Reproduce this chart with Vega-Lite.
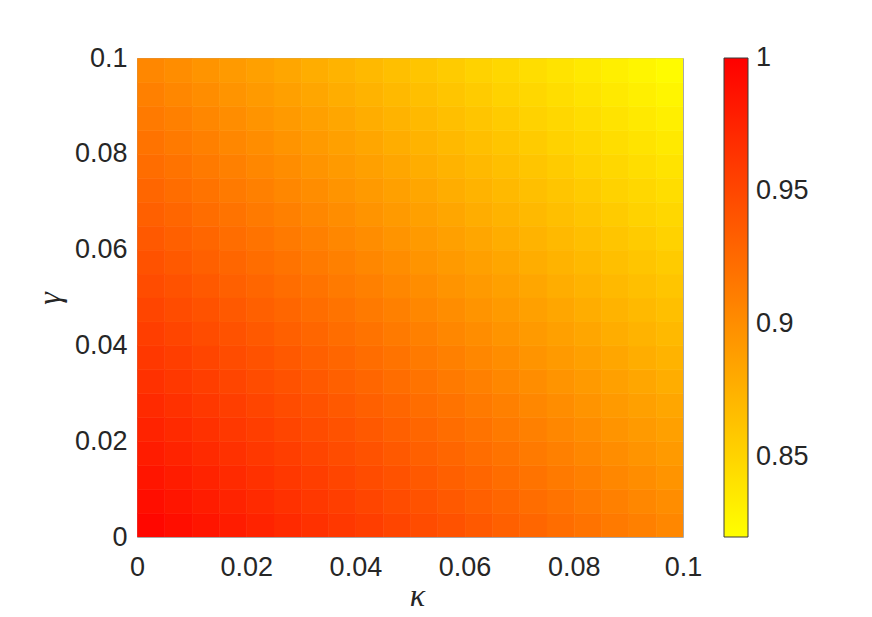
{
"$schema": "https://vega.github.io/schema/vega-lite/v6.json",
"autosize": {"type": "none"},
"padding": {"left": 137, "top": 58, "right": 189, "bottom": 80},
"width": 546,
"height": 479,
"background": "white",
"data": {"values": [
{"k":0,"g":0,"v":0.995},{"k":0,"g":0.005,"v":0.99},{"k":0,"g":0.01,"v":0.9851},{"k":0,"g":0.015,"v":0.9802},{"k":0,"g":0.02,"v":0.9753},{"k":0,"g":0.025,"v":0.9704},{"k":0,"g":0.03,"v":0.9656},{"k":0,"g":0.035,"v":0.9608},{"k":0,"g":0.04,"v":0.956},{"k":0,"g":0.045,"v":0.9512},{"k":0,"g":0.05,"v":0.9465},{"k":0,"g":0.055,"v":0.9418},{"k":0,"g":0.06,"v":0.9371},{"k":0,"g":0.065,"v":0.9324},{"k":0,"g":0.07,"v":0.9277},{"k":0,"g":0.075,"v":0.9231},{"k":0,"g":0.08,"v":0.9185},{"k":0,"g":0.085,"v":0.9139},{"k":0,"g":0.09,"v":0.9094},{"k":0,"g":0.095,"v":0.9048},
{"k":0.005,"g":0,"v":0.99},{"k":0.005,"g":0.005,"v":0.9851},{"k":0.005,"g":0.01,"v":0.9802},{"k":0.005,"g":0.015,"v":0.9753},{"k":0.005,"g":0.02,"v":0.9704},{"k":0.005,"g":0.025,"v":0.9656},{"k":0.005,"g":0.03,"v":0.9608},{"k":0.005,"g":0.035,"v":0.956},{"k":0.005,"g":0.04,"v":0.9512},{"k":0.005,"g":0.045,"v":0.9465},{"k":0.005,"g":0.05,"v":0.9418},{"k":0.005,"g":0.055,"v":0.9371},{"k":0.005,"g":0.06,"v":0.9324},{"k":0.005,"g":0.065,"v":0.9277},{"k":0.005,"g":0.07,"v":0.9231},{"k":0.005,"g":0.075,"v":0.9185},{"k":0.005,"g":0.08,"v":0.9139},{"k":0.005,"g":0.085,"v":0.9094},{"k":0.005,"g":0.09,"v":0.9048},{"k":0.005,"g":0.095,"v":0.9003},
{"k":0.01,"g":0,"v":0.9851},{"k":0.01,"g":0.005,"v":0.9802},{"k":0.01,"g":0.01,"v":0.9753},{"k":0.01,"g":0.015,"v":0.9704},{"k":0.01,"g":0.02,"v":0.9656},{"k":0.01,"g":0.025,"v":0.9608},{"k":0.01,"g":0.03,"v":0.956},{"k":0.01,"g":0.035,"v":0.9512},{"k":0.01,"g":0.04,"v":0.9465},{"k":0.01,"g":0.045,"v":0.9418},{"k":0.01,"g":0.05,"v":0.9371},{"k":0.01,"g":0.055,"v":0.9324},{"k":0.01,"g":0.06,"v":0.9277},{"k":0.01,"g":0.065,"v":0.9231},{"k":0.01,"g":0.07,"v":0.9185},{"k":0.01,"g":0.075,"v":0.9139},{"k":0.01,"g":0.08,"v":0.9094},{"k":0.01,"g":0.085,"v":0.9048},{"k":0.01,"g":0.09,"v":0.9003},{"k":0.01,"g":0.095,"v":0.8958},
{"k":0.015,"g":0,"v":0.9802},{"k":0.015,"g":0.005,"v":0.9753},{"k":0.015,"g":0.01,"v":0.9704},{"k":0.015,"g":0.015,"v":0.9656},{"k":0.015,"g":0.02,"v":0.9608},{"k":0.015,"g":0.025,"v":0.956},{"k":0.015,"g":0.03,"v":0.9512},{"k":0.015,"g":0.035,"v":0.9465},{"k":0.015,"g":0.04,"v":0.9418},{"k":0.015,"g":0.045,"v":0.9371},{"k":0.015,"g":0.05,"v":0.9324},{"k":0.015,"g":0.055,"v":0.9277},{"k":0.015,"g":0.06,"v":0.9231},{"k":0.015,"g":0.065,"v":0.9185},{"k":0.015,"g":0.07,"v":0.9139},{"k":0.015,"g":0.075,"v":0.9094},{"k":0.015,"g":0.08,"v":0.9048},{"k":0.015,"g":0.085,"v":0.9003},{"k":0.015,"g":0.09,"v":0.8958},{"k":0.015,"g":0.095,"v":0.8914},
{"k":0.02,"g":0,"v":0.9753},{"k":0.02,"g":0.005,"v":0.9704},{"k":0.02,"g":0.01,"v":0.9656},{"k":0.02,"g":0.015,"v":0.9608},{"k":0.02,"g":0.02,"v":0.956},{"k":0.02,"g":0.025,"v":0.9512},{"k":0.02,"g":0.03,"v":0.9465},{"k":0.02,"g":0.035,"v":0.9418},{"k":0.02,"g":0.04,"v":0.9371},{"k":0.02,"g":0.045,"v":0.9324},{"k":0.02,"g":0.05,"v":0.9277},{"k":0.02,"g":0.055,"v":0.9231},{"k":0.02,"g":0.06,"v":0.9185},{"k":0.02,"g":0.065,"v":0.9139},{"k":0.02,"g":0.07,"v":0.9094},{"k":0.02,"g":0.075,"v":0.9048},{"k":0.02,"g":0.08,"v":0.9003},{"k":0.02,"g":0.085,"v":0.8958},{"k":0.02,"g":0.09,"v":0.8914},{"k":0.02,"g":0.095,"v":0.8869},
{"k":0.025,"g":0,"v":0.9704},{"k":0.025,"g":0.005,"v":0.9656},{"k":0.025,"g":0.01,"v":0.9608},{"k":0.025,"g":0.015,"v":0.956},{"k":0.025,"g":0.02,"v":0.9512},{"k":0.025,"g":0.025,"v":0.9465},{"k":0.025,"g":0.03,"v":0.9418},{"k":0.025,"g":0.035,"v":0.9371},{"k":0.025,"g":0.04,"v":0.9324},{"k":0.025,"g":0.045,"v":0.9277},{"k":0.025,"g":0.05,"v":0.9231},{"k":0.025,"g":0.055,"v":0.9185},{"k":0.025,"g":0.06,"v":0.9139},{"k":0.025,"g":0.065,"v":0.9094},{"k":0.025,"g":0.07,"v":0.9048},{"k":0.025,"g":0.075,"v":0.9003},{"k":0.025,"g":0.08,"v":0.8958},{"k":0.025,"g":0.085,"v":0.8914},{"k":0.025,"g":0.09,"v":0.8869},{"k":0.025,"g":0.095,"v":0.8825},
{"k":0.03,"g":0,"v":0.9656},{"k":0.03,"g":0.005,"v":0.9608},{"k":0.03,"g":0.01,"v":0.956},{"k":0.03,"g":0.015,"v":0.9512},{"k":0.03,"g":0.02,"v":0.9465},{"k":0.03,"g":0.025,"v":0.9418},{"k":0.03,"g":0.03,"v":0.9371},{"k":0.03,"g":0.035,"v":0.9324},{"k":0.03,"g":0.04,"v":0.9277},{"k":0.03,"g":0.045,"v":0.9231},{"k":0.03,"g":0.05,"v":0.9185},{"k":0.03,"g":0.055,"v":0.9139},{"k":0.03,"g":0.06,"v":0.9094},{"k":0.03,"g":0.065,"v":0.9048},{"k":0.03,"g":0.07,"v":0.9003},{"k":0.03,"g":0.075,"v":0.8958},{"k":0.03,"g":0.08,"v":0.8914},{"k":0.03,"g":0.085,"v":0.8869},{"k":0.03,"g":0.09,"v":0.8825},{"k":0.03,"g":0.095,"v":0.8781},
{"k":0.035,"g":0,"v":0.9608},{"k":0.035,"g":0.005,"v":0.956},{"k":0.035,"g":0.01,"v":0.9512},{"k":0.035,"g":0.015,"v":0.9465},{"k":0.035,"g":0.02,"v":0.9418},{"k":0.035,"g":0.025,"v":0.9371},{"k":0.035,"g":0.03,"v":0.9324},{"k":0.035,"g":0.035,"v":0.9277},{"k":0.035,"g":0.04,"v":0.9231},{"k":0.035,"g":0.045,"v":0.9185},{"k":0.035,"g":0.05,"v":0.9139},{"k":0.035,"g":0.055,"v":0.9094},{"k":0.035,"g":0.06,"v":0.9048},{"k":0.035,"g":0.065,"v":0.9003},{"k":0.035,"g":0.07,"v":0.8958},{"k":0.035,"g":0.075,"v":0.8914},{"k":0.035,"g":0.08,"v":0.8869},{"k":0.035,"g":0.085,"v":0.8825},{"k":0.035,"g":0.09,"v":0.8781},{"k":0.035,"g":0.095,"v":0.8737},
{"k":0.04,"g":0,"v":0.956},{"k":0.04,"g":0.005,"v":0.9512},{"k":0.04,"g":0.01,"v":0.9465},{"k":0.04,"g":0.015,"v":0.9418},{"k":0.04,"g":0.02,"v":0.9371},{"k":0.04,"g":0.025,"v":0.9324},{"k":0.04,"g":0.03,"v":0.9277},{"k":0.04,"g":0.035,"v":0.9231},{"k":0.04,"g":0.04,"v":0.9185},{"k":0.04,"g":0.045,"v":0.9139},{"k":0.04,"g":0.05,"v":0.9094},{"k":0.04,"g":0.055,"v":0.9048},{"k":0.04,"g":0.06,"v":0.9003},{"k":0.04,"g":0.065,"v":0.8958},{"k":0.04,"g":0.07,"v":0.8914},{"k":0.04,"g":0.075,"v":0.8869},{"k":0.04,"g":0.08,"v":0.8825},{"k":0.04,"g":0.085,"v":0.8781},{"k":0.04,"g":0.09,"v":0.8737},{"k":0.04,"g":0.095,"v":0.8694},
{"k":0.045,"g":0,"v":0.9512},{"k":0.045,"g":0.005,"v":0.9465},{"k":0.045,"g":0.01,"v":0.9418},{"k":0.045,"g":0.015,"v":0.9371},{"k":0.045,"g":0.02,"v":0.9324},{"k":0.045,"g":0.025,"v":0.9277},{"k":0.045,"g":0.03,"v":0.9231},{"k":0.045,"g":0.035,"v":0.9185},{"k":0.045,"g":0.04,"v":0.9139},{"k":0.045,"g":0.045,"v":0.9094},{"k":0.045,"g":0.05,"v":0.9048},{"k":0.045,"g":0.055,"v":0.9003},{"k":0.045,"g":0.06,"v":0.8958},{"k":0.045,"g":0.065,"v":0.8914},{"k":0.045,"g":0.07,"v":0.8869},{"k":0.045,"g":0.075,"v":0.8825},{"k":0.045,"g":0.08,"v":0.8781},{"k":0.045,"g":0.085,"v":0.8737},{"k":0.045,"g":0.09,"v":0.8694},{"k":0.045,"g":0.095,"v":0.865},
{"k":0.05,"g":0,"v":0.9465},{"k":0.05,"g":0.005,"v":0.9418},{"k":0.05,"g":0.01,"v":0.9371},{"k":0.05,"g":0.015,"v":0.9324},{"k":0.05,"g":0.02,"v":0.9277},{"k":0.05,"g":0.025,"v":0.9231},{"k":0.05,"g":0.03,"v":0.9185},{"k":0.05,"g":0.035,"v":0.9139},{"k":0.05,"g":0.04,"v":0.9094},{"k":0.05,"g":0.045,"v":0.9048},{"k":0.05,"g":0.05,"v":0.9003},{"k":0.05,"g":0.055,"v":0.8958},{"k":0.05,"g":0.06,"v":0.8914},{"k":0.05,"g":0.065,"v":0.8869},{"k":0.05,"g":0.07,"v":0.8825},{"k":0.05,"g":0.075,"v":0.8781},{"k":0.05,"g":0.08,"v":0.8737},{"k":0.05,"g":0.085,"v":0.8694},{"k":0.05,"g":0.09,"v":0.865},{"k":0.05,"g":0.095,"v":0.8607},
{"k":0.055,"g":0,"v":0.9418},{"k":0.055,"g":0.005,"v":0.9371},{"k":0.055,"g":0.01,"v":0.9324},{"k":0.055,"g":0.015,"v":0.9277},{"k":0.055,"g":0.02,"v":0.9231},{"k":0.055,"g":0.025,"v":0.9185},{"k":0.055,"g":0.03,"v":0.9139},{"k":0.055,"g":0.035,"v":0.9094},{"k":0.055,"g":0.04,"v":0.9048},{"k":0.055,"g":0.045,"v":0.9003},{"k":0.055,"g":0.05,"v":0.8958},{"k":0.055,"g":0.055,"v":0.8914},{"k":0.055,"g":0.06,"v":0.8869},{"k":0.055,"g":0.065,"v":0.8825},{"k":0.055,"g":0.07,"v":0.8781},{"k":0.055,"g":0.075,"v":0.8737},{"k":0.055,"g":0.08,"v":0.8694},{"k":0.055,"g":0.085,"v":0.865},{"k":0.055,"g":0.09,"v":0.8607},{"k":0.055,"g":0.095,"v":0.8564},
{"k":0.06,"g":0,"v":0.9371},{"k":0.06,"g":0.005,"v":0.9324},{"k":0.06,"g":0.01,"v":0.9277},{"k":0.06,"g":0.015,"v":0.9231},{"k":0.06,"g":0.02,"v":0.9185},{"k":0.06,"g":0.025,"v":0.9139},{"k":0.06,"g":0.03,"v":0.9094},{"k":0.06,"g":0.035,"v":0.9048},{"k":0.06,"g":0.04,"v":0.9003},{"k":0.06,"g":0.045,"v":0.8958},{"k":0.06,"g":0.05,"v":0.8914},{"k":0.06,"g":0.055,"v":0.8869},{"k":0.06,"g":0.06,"v":0.8825},{"k":0.06,"g":0.065,"v":0.8781},{"k":0.06,"g":0.07,"v":0.8737},{"k":0.06,"g":0.075,"v":0.8694},{"k":0.06,"g":0.08,"v":0.865},{"k":0.06,"g":0.085,"v":0.8607},{"k":0.06,"g":0.09,"v":0.8564},{"k":0.06,"g":0.095,"v":0.8521},
{"k":0.065,"g":0,"v":0.9324},{"k":0.065,"g":0.005,"v":0.9277},{"k":0.065,"g":0.01,"v":0.9231},{"k":0.065,"g":0.015,"v":0.9185},{"k":0.065,"g":0.02,"v":0.9139},{"k":0.065,"g":0.025,"v":0.9094},{"k":0.065,"g":0.03,"v":0.9048},{"k":0.065,"g":0.035,"v":0.9003},{"k":0.065,"g":0.04,"v":0.8958},{"k":0.065,"g":0.045,"v":0.8914},{"k":0.065,"g":0.05,"v":0.8869},{"k":0.065,"g":0.055,"v":0.8825},{"k":0.065,"g":0.06,"v":0.8781},{"k":0.065,"g":0.065,"v":0.8737},{"k":0.065,"g":0.07,"v":0.8694},{"k":0.065,"g":0.075,"v":0.865},{"k":0.065,"g":0.08,"v":0.8607},{"k":0.065,"g":0.085,"v":0.8564},{"k":0.065,"g":0.09,"v":0.8521},{"k":0.065,"g":0.095,"v":0.8479},
{"k":0.07,"g":0,"v":0.9277},{"k":0.07,"g":0.005,"v":0.9231},{"k":0.07,"g":0.01,"v":0.9185},{"k":0.07,"g":0.015,"v":0.9139},{"k":0.07,"g":0.02,"v":0.9094},{"k":0.07,"g":0.025,"v":0.9048},{"k":0.07,"g":0.03,"v":0.9003},{"k":0.07,"g":0.035,"v":0.8958},{"k":0.07,"g":0.04,"v":0.8914},{"k":0.07,"g":0.045,"v":0.8869},{"k":0.07,"g":0.05,"v":0.8825},{"k":0.07,"g":0.055,"v":0.8781},{"k":0.07,"g":0.06,"v":0.8737},{"k":0.07,"g":0.065,"v":0.8694},{"k":0.07,"g":0.07,"v":0.865},{"k":0.07,"g":0.075,"v":0.8607},{"k":0.07,"g":0.08,"v":0.8564},{"k":0.07,"g":0.085,"v":0.8521},{"k":0.07,"g":0.09,"v":0.8479},{"k":0.07,"g":0.095,"v":0.8437},
{"k":0.075,"g":0,"v":0.9231},{"k":0.075,"g":0.005,"v":0.9185},{"k":0.075,"g":0.01,"v":0.9139},{"k":0.075,"g":0.015,"v":0.9094},{"k":0.075,"g":0.02,"v":0.9048},{"k":0.075,"g":0.025,"v":0.9003},{"k":0.075,"g":0.03,"v":0.8958},{"k":0.075,"g":0.035,"v":0.8914},{"k":0.075,"g":0.04,"v":0.8869},{"k":0.075,"g":0.045,"v":0.8825},{"k":0.075,"g":0.05,"v":0.8781},{"k":0.075,"g":0.055,"v":0.8737},{"k":0.075,"g":0.06,"v":0.8694},{"k":0.075,"g":0.065,"v":0.865},{"k":0.075,"g":0.07,"v":0.8607},{"k":0.075,"g":0.075,"v":0.8564},{"k":0.075,"g":0.08,"v":0.8521},{"k":0.075,"g":0.085,"v":0.8479},{"k":0.075,"g":0.09,"v":0.8437},{"k":0.075,"g":0.095,"v":0.8395},
{"k":0.08,"g":0,"v":0.9185},{"k":0.08,"g":0.005,"v":0.9139},{"k":0.08,"g":0.01,"v":0.9094},{"k":0.08,"g":0.015,"v":0.9048},{"k":0.08,"g":0.02,"v":0.9003},{"k":0.08,"g":0.025,"v":0.8958},{"k":0.08,"g":0.03,"v":0.8914},{"k":0.08,"g":0.035,"v":0.8869},{"k":0.08,"g":0.04,"v":0.8825},{"k":0.08,"g":0.045,"v":0.8781},{"k":0.08,"g":0.05,"v":0.8737},{"k":0.08,"g":0.055,"v":0.8694},{"k":0.08,"g":0.06,"v":0.865},{"k":0.08,"g":0.065,"v":0.8607},{"k":0.08,"g":0.07,"v":0.8564},{"k":0.08,"g":0.075,"v":0.8521},{"k":0.08,"g":0.08,"v":0.8479},{"k":0.08,"g":0.085,"v":0.8437},{"k":0.08,"g":0.09,"v":0.8395},{"k":0.08,"g":0.095,"v":0.8353},
{"k":0.085,"g":0,"v":0.9139},{"k":0.085,"g":0.005,"v":0.9094},{"k":0.085,"g":0.01,"v":0.9048},{"k":0.085,"g":0.015,"v":0.9003},{"k":0.085,"g":0.02,"v":0.8958},{"k":0.085,"g":0.025,"v":0.8914},{"k":0.085,"g":0.03,"v":0.8869},{"k":0.085,"g":0.035,"v":0.8825},{"k":0.085,"g":0.04,"v":0.8781},{"k":0.085,"g":0.045,"v":0.8737},{"k":0.085,"g":0.05,"v":0.8694},{"k":0.085,"g":0.055,"v":0.865},{"k":0.085,"g":0.06,"v":0.8607},{"k":0.085,"g":0.065,"v":0.8564},{"k":0.085,"g":0.07,"v":0.8521},{"k":0.085,"g":0.075,"v":0.8479},{"k":0.085,"g":0.08,"v":0.8437},{"k":0.085,"g":0.085,"v":0.8395},{"k":0.085,"g":0.09,"v":0.8353},{"k":0.085,"g":0.095,"v":0.8311},
{"k":0.09,"g":0,"v":0.9094},{"k":0.09,"g":0.005,"v":0.9048},{"k":0.09,"g":0.01,"v":0.9003},{"k":0.09,"g":0.015,"v":0.8958},{"k":0.09,"g":0.02,"v":0.8914},{"k":0.09,"g":0.025,"v":0.8869},{"k":0.09,"g":0.03,"v":0.8825},{"k":0.09,"g":0.035,"v":0.8781},{"k":0.09,"g":0.04,"v":0.8737},{"k":0.09,"g":0.045,"v":0.8694},{"k":0.09,"g":0.05,"v":0.865},{"k":0.09,"g":0.055,"v":0.8607},{"k":0.09,"g":0.06,"v":0.8564},{"k":0.09,"g":0.065,"v":0.8521},{"k":0.09,"g":0.07,"v":0.8479},{"k":0.09,"g":0.075,"v":0.8437},{"k":0.09,"g":0.08,"v":0.8395},{"k":0.09,"g":0.085,"v":0.8353},{"k":0.09,"g":0.09,"v":0.8311},{"k":0.09,"g":0.095,"v":0.827},
{"k":0.095,"g":0,"v":0.9048},{"k":0.095,"g":0.005,"v":0.9003},{"k":0.095,"g":0.01,"v":0.8958},{"k":0.095,"g":0.015,"v":0.8914},{"k":0.095,"g":0.02,"v":0.8869},{"k":0.095,"g":0.025,"v":0.8825},{"k":0.095,"g":0.03,"v":0.8781},{"k":0.095,"g":0.035,"v":0.8737},{"k":0.095,"g":0.04,"v":0.8694},{"k":0.095,"g":0.045,"v":0.865},{"k":0.095,"g":0.05,"v":0.8607},{"k":0.095,"g":0.055,"v":0.8564},{"k":0.095,"g":0.06,"v":0.8521},{"k":0.095,"g":0.065,"v":0.8479},{"k":0.095,"g":0.07,"v":0.8437},{"k":0.095,"g":0.075,"v":0.8395},{"k":0.095,"g":0.08,"v":0.8353},{"k":0.095,"g":0.085,"v":0.8311},{"k":0.095,"g":0.09,"v":0.827},{"k":0.095,"g":0.095,"v":0.8228}
]},
"mark": {"type": "rect", "binSpacing": 0, "strokeWidth": 0.6, "clip": true, "stroke": {"expr": "scale('color', datum.v)"}},
"encoding": {
"x": {"field": "k", "type": "quantitative", "bin": {"binned": true, "step": 0.005},
  "scale": {"domain": [0, 0.1], "nice": false, "zero": false},
  "axis": {"values": [0, 0.02, 0.04, 0.06, 0.08, 0.1], "format": "~g", "labelPadding": 17, "title": "κ",
    "titleX": 280, "titleY": 68, "titleBaseline": "alphabetic", "titleAlign": "center"}},
"y": {"field": "g", "type": "quantitative", "bin": {"binned": true, "step": 0.005},
  "scale": {"domain": [0, 0.1], "nice": false, "zero": false},
  "axis": {"values": [0, 0.02, 0.04, 0.06, 0.08, 0.1], "format": "~g", "labelPadding": 10, "title": "γ",
    "titleX": -78, "titleY": 240, "titleAngle": -90, "titleBaseline": "alphabetic", "titleAlign": "center"}},
"color": {"field": "v", "type": "quantitative",
  "scale": {"domain": [0.82, 1], "range": ["#ffff00", "#ff0000"], "interpolate": "rgb", "clamp": true, "nice": false, "zero": false},
  "legend": {"orient": "none", "legendX": 587, "legendY": 0, "direction": "vertical", "gradientLength": 479, "gradientThickness": 24,
    "values": [0.85, 0.9, 0.95, 1], "format": "~g", "title": null, "labelOffset": 8, "padding": 0,
    "gradientStrokeColor": "#3a3a3a", "gradientStrokeWidth": 1,
    "encode": {"labels": {"update": {"baseline": {"value": "middle"}}}}}}
},
"config": {
"view": {"stroke": "#a8a8a8", "strokeWidth": 1},
"axis": {"labelFont": "Liberation Sans", "labelFontSize": 27, "labelColor": "#262626", "ticks": false, "tickSize": 0, "domain": false, "grid": false, "labelFlush": false,
  "titleFont": "Liberation Serif", "titleFontStyle": "italic", "titleFontWeight": "normal", "titleFontSize": 32, "titleColor": "#262626"},
"legend": {"labelFont": "Liberation Sans", "labelFontSize": 27, "labelColor": "#262626"}
}
}
